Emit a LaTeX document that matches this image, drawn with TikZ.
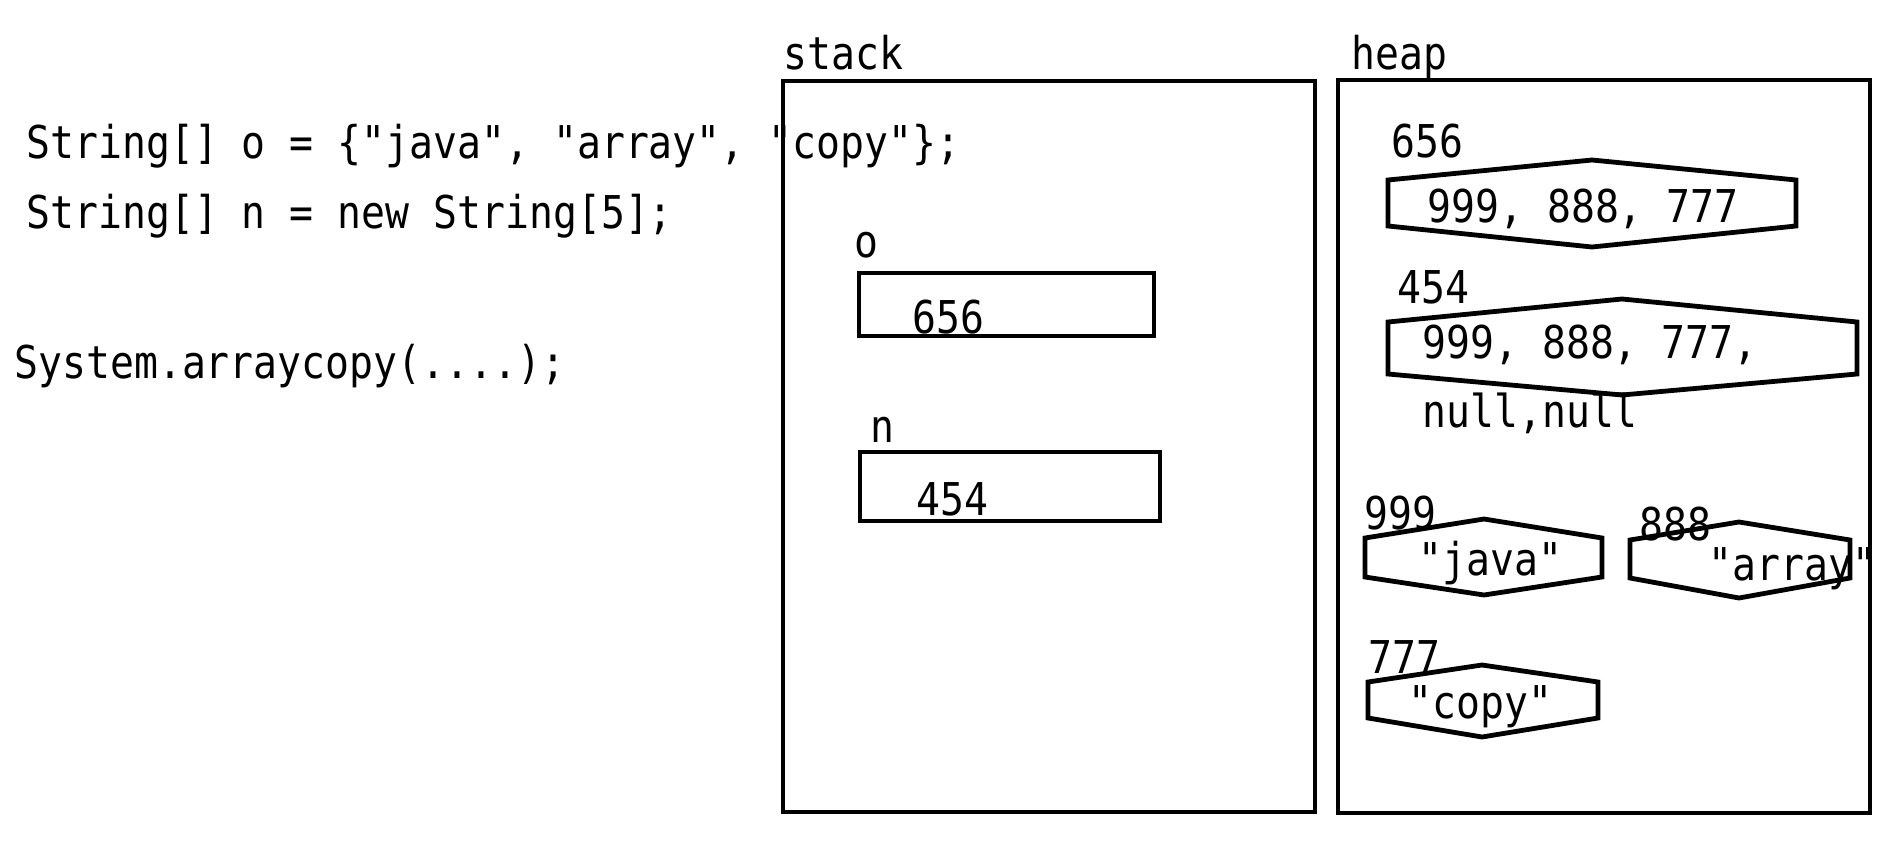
\documentclass[tikz,border=0pt]{standalone}
\usepackage{fontspec}
\newfontfamily\codefont[FakeStretch=0.88]{DejaVu Sans Mono}
\newcommand{\codesize}{\fontsize{22.6pt}{27pt}\selectfont}

\begin{document}
\begin{tikzpicture}[x=0.5pt, y=-0.5pt,
                    line width=2.4pt,
                    every node/.style={inner sep=0pt, anchor=base west, font=\codefont\codesize}]
  \useasboundingbox (0, 0) rectangle (1898, 856);
  \node (declaration_o) at (24, 158) {String[] o = \{"java", "array", "copy"\};};
  \node (declaration_n) at (24, 228) {String[] n = new String[5];};
  \node (array_copy) at (12, 378) {System.arraycopy(....);};
  % stack
  \coordinate (stack_nw) at (783, 81);
  \coordinate (stack_se) at (1315, 812);
  \node (stack) at (781, 70) {stack};
  \draw (stack_nw) rectangle (stack_se);
  \node (name_o) at (852, 257) {o};
  \draw (859, 273) rectangle (1154, 336);
  \node (ref_o) at (910, 333) {656};
  \node (name_n) at (868, 442) {n};
  \draw (860, 452) rectangle (1160, 521);
  \node (ref_n) at (914, 515) {454};
  % heap
  \coordinate (heap_nw) at (1338, 80);
  \coordinate (heap_se) at (1870, 813);
  \node (heap) at (1349, 70) {heap};
  \draw (heap_nw) rectangle (heap_se);
  \node (address_656) at (1389, 157) {656};
  \draw (1388, 180) -- (1592, 160) -- (1796, 180) -- (1796, 226) -- (1592, 247) -- (1388, 226) -- cycle;
  \node (array_o) at (1425, 222) {999, 888, 777};
  \node (address_454) at (1395, 303) {454};
  \draw (1388, 322) -- (1622, 299) -- (1857, 322) -- (1857, 374) -- (1622, 395) -- (1388, 374) -- cycle;
  \node (array_n) at (1420, 358) {999, 888, 777,};
  \node (array_n_rest) at (1420, 427) {null,null};
  \node (address_999) at (1362, 529) {999};
  \draw (1365, 538) -- (1484, 519) -- (1602, 538) -- (1602, 577) -- (1484, 595) -- (1365, 577) -- cycle;
  \node (string_java) at (1416, 575) {"java"};
  \node (address_888) at (1637, 540) {888};
  \draw (1630, 540) -- (1739, 522) -- (1850, 540) -- (1850, 578) -- (1739, 598) -- (1630, 578) -- cycle;
  \node (string_array) at (1706, 580) {"array"};
  \node (address_777) at (1366, 673) {777};
  \draw (1368, 682) -- (1482, 665) -- (1598, 682) -- (1598, 718) -- (1482, 737) -- (1368, 718) -- cycle;
  \node (string_copy) at (1406, 718) {"copy"};
\end{tikzpicture}
\end{document}
